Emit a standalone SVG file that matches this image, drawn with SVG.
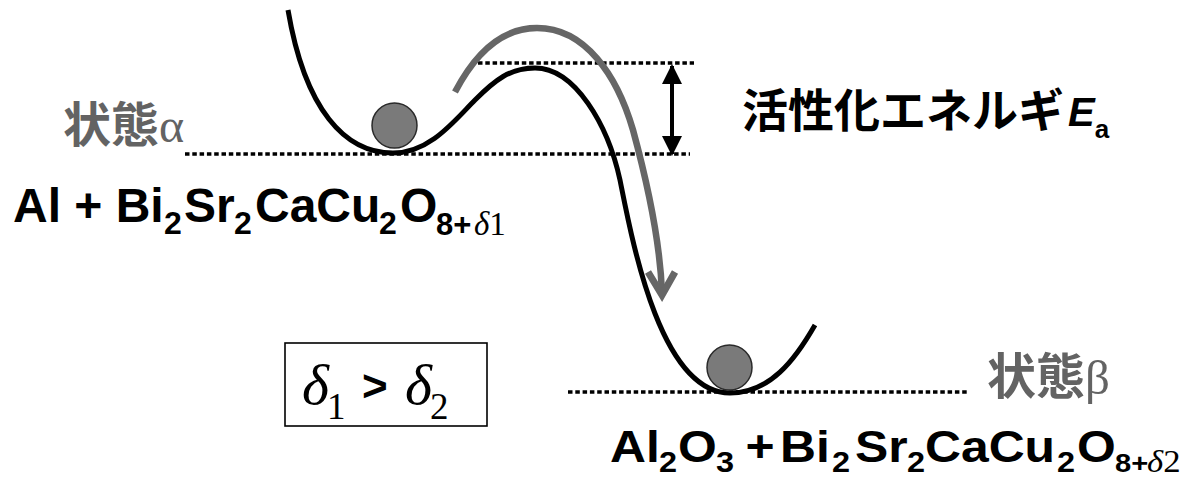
<svg xmlns="http://www.w3.org/2000/svg" width="1186" height="483" viewBox="0 0 1186 483">
<style>
.f{font-family:"Liberation Sans",Arial,sans-serif;font-weight:bold;fill:#000}
.sub{font-size:32px}
.sub2{font-size:29px}
.ser{font-family:"Liberation Serif","Times New Roman",serif;font-weight:normal}
.it{font-style:italic}
.jp{font-family:"Noto Sans CJK JP",sans-serif;font-weight:bold}
.gray{fill:#636363}
.dot{stroke:#000;stroke-width:3.5;stroke-dasharray:4.5 2.8;fill:none}
.ball{fill:#7a7a7a;stroke:#2a2a2a;stroke-width:1.5}
</style>
<defs>
<marker id="tri" markerUnits="userSpaceOnUse" viewBox="0 0 20 20" refX="18" refY="10" markerWidth="20" markerHeight="20" orient="auto-start-reverse">
<path d="M0,0 L20,10 L0,20 Z" fill="#000"/>
</marker>
</defs>
<rect width="1186" height="483" fill="#fff"/>

<g id="levels">
<line class="dot" x1="478" y1="63" x2="694" y2="63"/>
<line class="dot" x1="185" y1="154" x2="690" y2="154"/>
<line class="dot" x1="568" y1="392" x2="968" y2="392"/>
</g>

<g id="connectors">
<path d="M288,10 C305,110 345,153 393,153 C430,153 455,120 475,100 C495,80 510,68 535,68 C575,68 608,125 620,180 C632,240 660,393 730,393 C770,393 795,360 815,325" fill="none" stroke="#000" stroke-width="5"/>
<path d="M455,92 C478,48 505,28 537,28 C585,28 617,75 633,130 C648,185 660,240 662,293" fill="none" stroke="#666" stroke-width="6.5"/>
<polyline points="648,272 662,295 675,272" fill="none" stroke="#666" stroke-width="7" stroke-linejoin="miter"/>
<line x1="672" y1="66" x2="672" y2="154" stroke="#000" stroke-width="4" marker-start="url(#tri)" marker-end="url(#tri)"/>
</g>

<g id="state-alpha">
<circle class="ball" cx="394.5" cy="125.5" r="22.5"/>
<text class="jp gray" x="63" y="142" font-size="48">状態<tspan class="ser">α</tspan></text>
<text class="f" y="222" font-size="48"><tspan x="13">Al + Bi</tspan><tspan class="sub" x="164" y="234">2</tspan><tspan x="184" y="222">Sr</tspan><tspan class="sub" x="234" y="234">2</tspan><tspan x="255" y="222">CaCu</tspan><tspan class="sub" x="379" y="234">2</tspan><tspan x="400" y="222">O</tspan><tspan class="sub" x="436" y="235" style="font-size:31px">8+</tspan><tspan class="sub ser it" x="474" y="235" style="font-size:33px">δ</tspan><tspan class="sub ser" y="235" style="font-size:33px">1</tspan></text>
</g>

<g id="activation-energy">
<text class="jp" x="742" y="127" font-size="46">活性化エネルギ<tspan class="f it" font-size="40" x="1068" y="126">E</tspan><tspan class="f" font-size="26" y="138">a</tspan></text>
</g>

<g id="state-beta">
<circle class="ball" cx="729.5" cy="367.5" r="22.5"/>
<text class="jp gray" x="987" y="394" font-size="49">状態<tspan class="ser">β</tspan></text>
<g transform="translate(610,462) scale(1.12,1)">
<text class="f" y="0" font-size="44.5"><tspan x="0">Al</tspan><tspan class="sub2" x="43.7" y="10">2</tspan><tspan x="60.7" y="0">O</tspan><tspan class="sub2" x="94.6" y="10">3</tspan><tspan x="121" y="0">+</tspan><tspan x="151.8" y="0">Bi</tspan><tspan class="sub2" x="198.2" y="10">2</tspan><tspan x="218.7" y="0">Sr</tspan><tspan class="sub2" x="265.2" y="10">2</tspan><tspan x="281.2" y="0">CaCu</tspan><tspan class="sub2" x="399.1" y="10">2</tspan><tspan x="417" y="0">O</tspan><tspan class="sub2" x="450.9" y="10" style="font-size:26px">8+</tspan><tspan class="sub2 ser it" x="479.5" y="10" style="font-size:31px">δ</tspan><tspan class="sub2 ser" y="10" style="font-size:31px">2</tspan></text>
</g>
</g>

<g id="delta-box">
<rect x="285" y="343" width="202" height="83" fill="none" stroke="#000" stroke-width="1.6"/>
<text class="ser" font-size="58"><tspan class="it" x="302" y="404">δ</tspan><tspan x="327" y="419" font-size="37">1</tspan><tspan class="f" x="362" y="401" font-size="44">&gt;</tspan><tspan class="it" x="405" y="404">δ</tspan><tspan x="430" y="419" font-size="37">2</tspan></text>
</g>
</svg>
